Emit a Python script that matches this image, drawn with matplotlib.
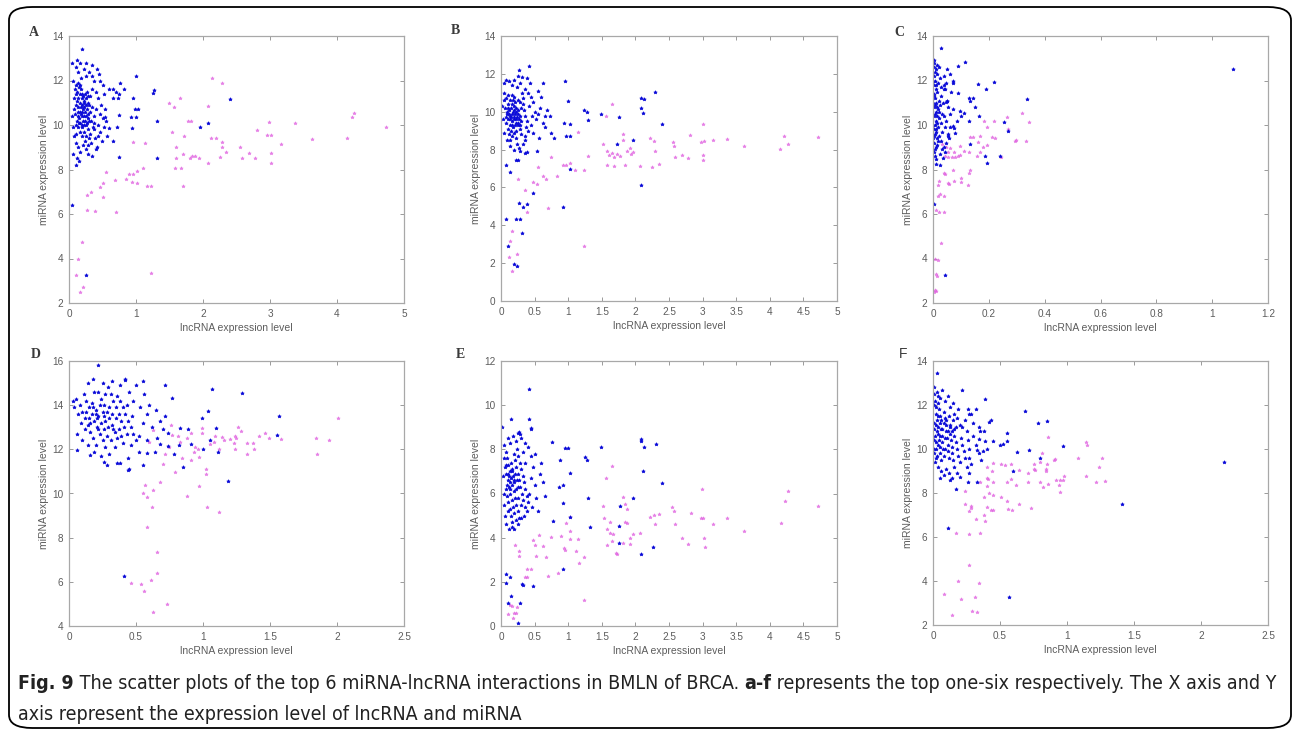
import matplotlib
matplotlib.use("Agg")
import matplotlib.pyplot as plt
import numpy as np
from matplotlib.patches import FancyBboxPatch
from matplotlib.ticker import FuncFormatter

W, H = 1295, 732
BLUE = "#0a0ad8"
MAGENTA = "#e060e0"
GREY = "#5c5c5c"
SPINE = "#a8a8a8"

# ---- data ----
a_blue = [
    (0.10, 11.8), (0.12, 11.5), (0.14, 11.2), (0.16, 11.0), (0.18, 10.8), (0.20, 10.6), (0.22, 10.4), (0.24, 10.2), (0.26, 10.0), (0.28, 9.8),
    (0.11, 10.9), (0.13, 10.6), (0.15, 10.3), (0.17, 10.1), (0.19, 9.9), (0.21, 11.3), (0.23, 11.1), (0.25, 10.9), (0.27, 10.7), (0.29, 10.5),
    (0.12, 10.2), (0.14, 9.9), (0.16, 9.7), (0.18, 11.6), (0.20, 11.4), (0.22, 10.8), (0.24, 10.6), (0.26, 11.2), (0.28, 10.3), (0.30, 10.9),
    (0.09, 10.5), (0.10, 10.0), (0.11, 9.6), (0.13, 11.9), (0.15, 11.7), (0.17, 11.4), (0.19, 10.4), (0.21, 10.2), (0.23, 9.7), (0.25, 9.5),
    (0.27, 11.5), (0.29, 11.0), (0.31, 10.6), (0.33, 10.2), (0.35, 10.8), (0.37, 10.4), (0.32, 11.3), (0.34, 11.6), (0.36, 9.9), (0.38, 10.1),
    (0.08, 11.2), (0.07, 10.7), (0.06, 12.0), (0.05, 12.8), (0.10, 12.6), (0.14, 12.4), (0.18, 12.1), (0.22, 12.5), (0.26, 12.8), (0.30, 12.4),
    (0.34, 12.2), (0.38, 12.0), (0.42, 12.5), (0.45, 12.3), (0.20, 13.4), (0.12, 12.9), (0.25, 12.2), (0.16, 12.8), (0.40, 11.5), (0.44, 11.2),
    (0.48, 10.9), (0.41, 10.7), (0.46, 10.5), (0.50, 10.3), (0.43, 10.0), (0.47, 9.7), (0.52, 9.9), (0.39, 9.4), (0.44, 9.5), (0.49, 9.3),
    (0.10, 9.2), (0.13, 9.0), (0.17, 8.8), (0.21, 9.1), (0.25, 8.9), (0.29, 8.7), (0.33, 9.2), (0.35, 8.6), (0.30, 9.4), (0.12, 8.5),
    (0.10, 8.2), (0.15, 8.4), (0.20, 9.5), (0.24, 9.3), (0.28, 9.1), (0.32, 9.6), (0.40, 8.9), (0.37, 9.8), (0.06, 9.9), (0.05, 10.4),
    (0.20, 10.0), (0.18, 10.5), (0.16, 10.6), (0.14, 10.8), (0.22, 11.0), (0.24, 11.4), (0.12, 11.1), (0.20, 10.9), (0.17, 11.8), (0.25, 10.4),
    (0.27, 10.1), (0.15, 10.1), (0.13, 10.4), (0.19, 11.2), (0.21, 10.7), (0.23, 10.0), (0.30, 10.2), (0.28, 11.3), (0.11, 11.4), (0.09, 11.6),
    (0.53, 10.7), (0.55, 10.2), (0.52, 11.4), (0.50, 11.8), (0.56, 9.5), (0.06, 8.7), (0.08, 9.5), (0.42, 9.0), (0.47, 12.0), (0.35, 12.7),
    (1.00, 12.2), (0.76, 11.9), (0.66, 11.6), (0.70, 11.5), (0.74, 11.4), (0.82, 11.6), (0.59, 11.6), (0.65, 11.2), (0.73, 11.2), (0.95, 11.2),
    (0.99, 10.7), (1.03, 10.7), (0.74, 10.45), (0.71, 9.9), (0.94, 9.85), (0.92, 10.37), (1.00, 10.35), (0.66, 9.3), (0.74, 8.57), (0.59, 9.85),
    (0.54, 10.37), (1.31, 8.5), (1.31, 10.18), (1.27, 11.57), (1.25, 11.44), (2.07, 10.07), (2.40, 11.15), (1.96, 9.9), (0.25, 3.25), (0.04, 6.41),
]
a_mag = [
    (4.73, 9.9), (4.25, 10.54), (4.22, 10.34), (4.15, 9.43), (3.62, 9.35), (3.37, 10.1), (3.16, 9.14), (2.99, 10.13), (2.95, 9.55), (3.02, 9.55),
    (3.02, 8.72), (3.02, 8.3), (2.80, 9.76), (2.78, 8.5), (2.68, 8.72), (2.58, 8.5), (2.55, 9.0), (2.34, 8.78), (2.28, 9.0), (2.28, 9.25),
    (2.26, 8.57), (2.20, 9.43), (2.12, 9.4), (2.07, 10.85), (2.13, 12.13), (2.29, 11.9), (2.07, 8.27), (1.94, 8.5), (1.88, 8.6), (1.84, 8.62),
    (1.80, 8.5), (1.70, 8.7), (1.67, 8.05), (1.58, 8.05), (1.70, 7.28), (1.82, 10.16), (1.77, 10.16), (1.71, 9.49), (1.65, 11.2), (1.56, 10.8),
    (1.49, 11.0), (1.53, 9.68), (1.59, 9.0), (1.60, 8.53), (1.23, 3.36), (1.14, 9.2), (0.96, 9.25), (1.16, 7.28), (1.22, 7.28), (1.10, 8.05),
    (1.01, 7.93), (1.02, 7.4), (0.94, 7.45), (0.95, 7.82), (0.85, 7.58), (0.90, 7.8), (0.70, 6.1), (0.68, 7.52), (0.55, 7.9), (0.51, 7.4),
    (0.46, 7.22), (0.51, 6.75), (0.39, 6.13), (0.27, 6.16), (0.27, 6.85), (0.33, 6.97), (0.19, 4.73), (0.14, 3.98), (0.10, 3.28), (0.16, 2.5),
    (0.21, 2.7),
]

b_blue = [
    (0.05, 11.0), (0.08, 10.7), (0.10, 10.4), (0.12, 10.1), (0.14, 9.8), (0.16, 9.5), (0.18, 9.2), (0.20, 8.9), (0.22, 8.6), (0.24, 8.3),
    (0.06, 10.2), (0.09, 9.9), (0.11, 9.6), (0.13, 9.3), (0.15, 9.0), (0.17, 8.7), (0.19, 10.8), (0.21, 10.5), (0.23, 10.2), (0.25, 9.9),
    (0.27, 9.6), (0.29, 9.3), (0.07, 9.4), (0.10, 9.1), (0.12, 8.8), (0.14, 8.5), (0.16, 10.9), (0.18, 10.6), (0.20, 10.3), (0.22, 10.0),
    (0.24, 9.7), (0.26, 9.4), (0.28, 9.1), (0.30, 8.8), (0.32, 10.4), (0.34, 10.1), (0.36, 9.8), (0.38, 9.5), (0.31, 11.0), (0.33, 10.7),
    (0.04, 11.5), (0.08, 11.7), (0.12, 11.6), (0.16, 11.4), (0.20, 11.7), (0.24, 11.3), (0.28, 11.5), (0.35, 11.2), (0.40, 11.0), (0.45, 10.8),
    (0.48, 10.5), (0.42, 10.3), (0.50, 10.0), (0.46, 9.8), (0.52, 9.6), (0.44, 9.3), (0.40, 9.0), (0.36, 8.7), (0.48, 8.9), (0.55, 9.9),
    (0.58, 10.2), (0.60, 10.8), (0.56, 8.6), (0.33, 8.3), (0.27, 8.1), (0.20, 8.0), (0.13, 8.2), (0.09, 8.5), (0.05, 8.9), (0.03, 9.6),
    (0.02, 10.3), (0.04, 10.6), (0.15, 10.2), (0.17, 9.9), (0.19, 9.6), (0.21, 9.3), (0.23, 9.0), (0.13, 10.6), (0.11, 10.9), (0.25, 10.6),
    (0.14, 9.6), (0.16, 9.3), (0.18, 10.0), (0.20, 9.7), (0.22, 9.4), (0.12, 9.9), (0.10, 10.2), (0.26, 10.1), (0.28, 9.8), (0.30, 9.5),
    (0.17, 10.4), (0.19, 10.1), (0.15, 9.7), (0.21, 9.9), (0.23, 9.6), (0.25, 9.3), (0.09, 10.0), (0.07, 9.7), (0.29, 10.5), (0.37, 9.2),
    (0.43, 11.5), (0.38, 11.8), (0.25, 11.9), (0.30, 10.2), (0.35, 8.5), (0.28, 7.9), (0.62, 9.4), (0.65, 9.8), (0.68, 10.1), (0.55, 11.1),
    (0.41, 12.4), (0.27, 12.2), (0.31, 11.85), (0.95, 11.6), (0.63, 11.5), (1.00, 10.55), (1.24, 10.1), (1.28, 10.0), (1.30, 9.55), (1.49, 9.87),
    (1.76, 9.72), (1.03, 9.37), (0.94, 9.4), (2.08, 10.7), (2.13, 10.65), (2.08, 10.2), (2.12, 9.95), (2.29, 11.05), (2.40, 9.37), (1.97, 8.52),
    (1.72, 8.28), (2.08, 6.12), (0.96, 8.7), (1.03, 8.7), (1.03, 7.0), (0.93, 4.97), (0.47, 5.72), (0.38, 5.15), (0.27, 5.18), (0.32, 4.95),
    (0.23, 4.34), (0.29, 4.34), (0.07, 4.34), (0.31, 3.6), (0.11, 2.92), (0.19, 1.95), (0.24, 1.86), (0.13, 6.8), (0.07, 7.16), (0.23, 7.43),
    (0.26, 7.43), (0.36, 7.8), (0.38, 7.85), (0.53, 7.95), (0.65, 9.2), (0.73, 9.8), (0.75, 8.85), (0.79, 8.6),
]
b_mag = [
    (0.16, 1.57), (0.12, 2.3), (0.13, 3.15), (0.17, 3.7), (0.24, 2.48), (0.26, 6.46), (0.36, 5.84), (0.39, 4.7), (0.48, 6.3), (0.53, 6.2),
    (0.55, 7.07), (0.62, 6.6), (0.67, 6.45), (0.70, 4.9), (0.74, 7.6), (0.84, 6.58), (0.92, 7.17), (0.96, 7.2), (1.02, 7.3), (1.10, 6.9),
    (1.14, 8.95), (1.23, 6.9), (1.30, 7.64), (1.23, 2.9), (1.52, 8.31), (1.56, 9.8), (1.65, 10.43), (1.57, 7.9), (1.60, 7.7), (1.65, 7.84),
    (1.68, 7.6), (1.72, 7.78), (1.77, 7.66), (1.68, 7.13), (1.57, 7.2), (1.82, 8.84), (1.82, 8.52), (1.85, 7.2), (1.87, 7.9), (1.94, 7.78),
    (1.92, 8.06), (1.97, 7.87), (2.07, 7.13), (2.22, 8.6), (2.28, 8.45), (2.29, 7.95), (2.24, 7.07), (2.35, 7.25), (2.56, 8.4), (2.58, 8.2),
    (2.59, 7.6), (2.69, 7.7), (2.79, 7.53), (2.81, 8.75), (2.97, 8.4), (3.00, 9.37), (3.00, 7.72), (3.02, 8.45), (3.01, 7.45), (3.16, 8.5),
    (3.36, 8.57), (3.61, 8.17), (4.15, 8.05), (4.21, 8.73), (4.27, 8.27), (4.72, 8.66),
]

c_blue = [
    (0.002, 12.8), (0.004, 12.6), (0.006, 12.4), (0.003, 12.2), (0.008, 12.0), (0.005, 11.8), (0.010, 11.6), (0.002, 11.4), (0.007, 11.2), (0.012, 11.0),
    (0.004, 10.8), (0.009, 10.6), (0.003, 10.4), (0.011, 10.2), (0.006, 10.0), (0.002, 9.8), (0.008, 9.6), (0.013, 9.4), (0.005, 9.2), (0.010, 9.0),
    (0.003, 8.8), (0.007, 8.6), (0.012, 8.45), (0.015, 12.3), (0.018, 11.9), (0.016, 11.5), (0.020, 11.1), (0.017, 10.7), (0.022, 10.3), (0.019, 9.9),
    (0.021, 9.5), (0.016, 9.1), (0.024, 8.7), (0.014, 12.7), (0.025, 12.1), (0.028, 11.7), (0.030, 11.3), (0.026, 10.9), (0.032, 10.5), (0.029, 10.1),
    (0.034, 9.7), (0.027, 9.3), (0.031, 8.9), (0.036, 11.0), (0.040, 10.4), (0.038, 11.6), (0.042, 9.9), (0.045, 9.2), (0.035, 8.5), (0.040, 12.2),
    (0.001, 11.0), (0.001, 10.0), (0.001, 9.4), (0.001, 12.0), (0.004, 11.3), (0.006, 10.5), (0.009, 9.8), (0.011, 11.8), (0.013, 10.1), (0.003, 9.5),
    (0.008, 10.9), (0.014, 10.4), (0.005, 12.9), (0.010, 12.5), (0.020, 12.6), (0.023, 10.6), (0.018, 9.3), (0.006, 8.9), (0.012, 9.7), (0.015, 10.8),
    (0.050, 11.1), (0.055, 10.8), (0.048, 10.2), (0.052, 9.6), (0.058, 9.4), (0.044, 8.8), (0.060, 10.5), (0.065, 11.5), (0.046, 11.9), (0.038, 9.0),
    (0.027, 13.47), (1.075, 12.5), (0.116, 12.84), (0.088, 12.66), (0.050, 12.5), (0.060, 12.3), (0.070, 12.0), (0.072, 11.9), (0.040, 11.8), (0.044, 11.6),
    (0.160, 11.86), (0.220, 11.95), (0.190, 11.6), (0.088, 11.45), (0.050, 11.1), (0.046, 11.05), (0.130, 11.2), (0.134, 11.1), (0.145, 11.2), (0.336, 11.18),
    (0.112, 10.55), (0.150, 10.8), (0.166, 10.4), (0.100, 10.4), (0.070, 10.7), (0.130, 10.2), (0.060, 9.9), (0.070, 9.95), (0.076, 9.85), (0.086, 10.2),
    (0.095, 10.65), (0.052, 9.5), (0.080, 9.63), (0.187, 8.6), (0.193, 8.3), (0.240, 8.6), (0.044, 3.28), (0.005, 6.44), (0.012, 8.25), (0.024, 8.2),
    (0.253, 10.13), (0.267, 9.72), (0.133, 9.15),
]
c_mag = [
    (0.017, 6.8), (0.030, 4.7), (0.008, 4.0), (0.017, 3.95), (0.010, 3.3), (0.014, 3.2), (0.008, 2.6), (0.012, 2.55), (0.005, 2.5), (0.010, 6.2),
    (0.020, 6.1), (0.040, 6.1), (0.040, 6.8), (0.026, 6.9), (0.017, 7.3), (0.020, 7.5), (0.052, 7.4), (0.056, 7.35), (0.074, 7.5), (0.100, 7.6),
    (0.040, 7.85), (0.044, 7.8), (0.070, 8.0), (0.100, 7.45), (0.124, 7.3), (0.128, 7.85), (0.133, 8.0), (0.044, 8.6), (0.052, 8.55), (0.068, 8.55),
    (0.080, 8.55), (0.088, 8.62), (0.098, 8.65), (0.052, 8.8), (0.074, 8.8), (0.060, 8.95), (0.033, 9.15), (0.048, 9.0), (0.095, 9.05), (0.110, 8.85),
    (0.130, 8.78), (0.157, 8.62), (0.133, 9.48), (0.145, 9.45), (0.160, 9.22), (0.170, 9.52), (0.180, 9.0), (0.193, 9.12), (0.170, 8.8), (0.210, 9.45),
    (0.195, 9.93), (0.183, 10.17), (0.220, 10.2), (0.222, 9.42), (0.242, 8.55), (0.265, 10.35), (0.270, 9.83), (0.292, 9.3), (0.298, 9.33), (0.333, 9.27),
    (0.320, 10.55), (0.345, 10.13),
]

d_blue = [
    (0.05, 14.3), (0.08, 14.0), (0.10, 13.7), (0.12, 13.4), (0.14, 13.1), (0.16, 12.8), (0.18, 12.5), (0.20, 12.2), (0.22, 14.6), (0.24, 14.3),
    (0.26, 14.0), (0.28, 13.7), (0.30, 13.4), (0.32, 13.1), (0.34, 12.8), (0.36, 12.5), (0.38, 14.2), (0.40, 13.9), (0.42, 13.6), (0.44, 13.3),
    (0.46, 13.0), (0.48, 12.7), (0.50, 12.4), (0.11, 14.5), (0.13, 14.2), (0.15, 13.9), (0.17, 13.6), (0.19, 13.3), (0.21, 13.0), (0.23, 12.7),
    (0.25, 12.4), (0.27, 12.1), (0.29, 14.8), (0.31, 14.5), (0.33, 14.2), (0.35, 13.9), (0.37, 13.6), (0.39, 13.3), (0.41, 13.0), (0.43, 12.7),
    (0.20, 13.8), (0.22, 13.5), (0.24, 13.2), (0.26, 12.9), (0.28, 12.6), (0.18, 13.9), (0.20, 13.6), (0.25, 13.7), (0.30, 13.9), (0.35, 13.4),
    (0.15, 13.4), (0.27, 13.3), (0.32, 13.6), (0.23, 14.0), (0.17, 14.1), (0.12, 12.9), (0.09, 13.2), (0.07, 13.6), (0.06, 12.7), (0.04, 13.9),
    (0.03, 14.2), (0.10, 12.4), (0.14, 12.2), (0.19, 11.9), (0.24, 11.7), (0.30, 11.8), (0.34, 12.1), (0.40, 12.3), (0.46, 12.2), (0.52, 12.6),
    (0.55, 13.2), (0.58, 13.6), (0.53, 13.9), (0.48, 14.2), (0.45, 14.6), (0.38, 14.9), (0.32, 15.1), (0.25, 15.0), (0.18, 15.2), (0.14, 15.0),
    (0.42, 15.2), (0.50, 14.9), (0.56, 14.5), (0.60, 14.0), (0.62, 13.0), (0.58, 12.4), (0.52, 11.9), (0.44, 11.6), (0.36, 11.4), (0.28, 11.3),
    (0.26, 13.5), (0.21, 13.4), (0.29, 13.0), (0.33, 12.9), (0.37, 12.9), (0.13, 13.7), (0.16, 13.2), (0.22, 12.9), (0.31, 12.4), (0.39, 12.6),
    (0.47, 13.5), (0.43, 14.0), (0.36, 14.4), (0.27, 14.5), (0.19, 14.6), (0.65, 13.8), (0.68, 13.3), (0.70, 12.9), (0.66, 12.5), (0.72, 13.5),
    (0.22, 15.8), (0.42, 15.16), (0.55, 15.08), (0.72, 14.9), (1.07, 14.75), (1.29, 14.55), (0.77, 14.32), (1.04, 13.74), (1.57, 13.5), (0.99, 13.4),
    (1.10, 12.96), (0.83, 12.95), (0.89, 12.9), (0.74, 12.75), (1.55, 12.64), (1.19, 10.58), (0.41, 6.26), (0.44, 11.05), (0.45, 11.1), (0.55, 11.27),
    (0.74, 12.13), (0.78, 11.77), (0.82, 12.18), (0.85, 11.22), (0.91, 12.26), (1.00, 12.03), (1.05, 12.4), (1.11, 11.88), (0.58, 11.84), (0.68, 12.26),
    (0.64, 11.88), (0.06, 11.95), (0.16, 11.73), (0.26, 11.42), (0.38, 11.37),
]
d_mag = [
    (0.76, 13.1), (0.77, 12.64), (0.81, 12.6), (0.83, 12.34), (0.84, 11.62), (0.75, 12.1), (0.72, 11.8), (0.70, 11.34), (0.79, 10.96), (0.68, 10.5),
    (0.88, 12.53), (0.91, 12.75), (0.94, 12.1), (0.96, 12.03), (0.97, 11.65), (0.99, 12.95), (0.99, 12.72), (0.93, 11.88), (0.91, 11.5), (0.97, 10.35),
    (1.02, 10.88), (1.02, 11.1), (1.05, 12.26), (1.08, 12.34), (1.09, 12.6), (1.12, 12.03), (1.14, 12.56), (1.16, 12.4), (1.20, 12.48), (1.23, 12.3),
    (1.24, 12.6), (1.25, 12.5), (1.24, 12.03), (1.26, 13.0), (1.28, 12.84), (1.33, 11.8), (1.33, 12.3), (1.37, 12.3), (1.38, 12.03), (1.42, 12.6),
    (1.46, 12.72), (1.49, 12.52), (1.58, 12.46), (1.84, 12.53), (1.85, 11.77), (1.94, 12.4), (2.01, 13.4), (0.55, 10.0), (0.57, 10.4), (0.58, 9.85),
    (0.62, 9.4), (0.63, 10.15), (0.88, 9.88), (1.03, 9.4), (1.12, 9.16), (0.58, 8.47), (0.66, 7.34), (0.66, 6.38), (0.61, 6.1), (0.54, 5.88),
    (0.56, 5.6), (0.46, 5.95), (0.73, 5.0), (0.63, 4.63), (0.60, 12.34), (0.63, 12.87),
]

e_blue = [
    (0.05, 8.2), (0.07, 7.9), (0.09, 7.6), (0.11, 7.3), (0.13, 7.0), (0.15, 6.7), (0.17, 6.4), (0.19, 6.1), (0.21, 5.8), (0.23, 5.5),
    (0.25, 5.2), (0.27, 4.9), (0.06, 7.2), (0.08, 6.9), (0.10, 6.6), (0.12, 6.3), (0.14, 6.0), (0.16, 5.7), (0.18, 5.4), (0.20, 5.1),
    (0.22, 4.8), (0.24, 8.0), (0.26, 7.7), (0.28, 7.4), (0.30, 7.1), (0.32, 6.8), (0.34, 6.5), (0.36, 6.2), (0.38, 5.9), (0.40, 5.6),
    (0.07, 6.2), (0.09, 5.9), (0.11, 5.6), (0.13, 5.3), (0.15, 5.0), (0.17, 4.7), (0.19, 7.8), (0.21, 7.5), (0.23, 7.2), (0.25, 6.9),
    (0.27, 6.6), (0.29, 6.3), (0.31, 6.0), (0.33, 5.7), (0.35, 5.4), (0.12, 6.8), (0.14, 6.5), (0.16, 7.1), (0.18, 6.8), (0.20, 6.5),
    (0.22, 6.2), (0.24, 6.6), (0.26, 6.3), (0.15, 7.4), (0.17, 7.0), (0.13, 6.2), (0.19, 6.6), (0.21, 6.9), (0.11, 6.9), (0.09, 6.4),
    (0.04, 5.5), (0.05, 6.0), (0.03, 6.8), (0.04, 7.6), (0.06, 5.0), (0.08, 4.6), (0.12, 4.4), (0.16, 4.5), (0.20, 4.4), (0.26, 4.6),
    (0.30, 4.9), (0.34, 5.0), (0.38, 5.2), (0.42, 6.0), (0.45, 6.7), (0.48, 7.2), (0.44, 7.7), (0.40, 8.1), (0.35, 8.3), (0.30, 8.5),
    (0.50, 6.4), (0.52, 5.8), (0.55, 5.2), (0.50, 7.8), (0.58, 6.9), (0.60, 7.4), (0.62, 6.5), (0.46, 5.4), (0.36, 7.4), (0.32, 7.9),
    (0.14, 8.3), (0.10, 8.5), (0.18, 8.6), (0.22, 8.4), (0.28, 8.7), (0.08, 7.3), (0.10, 5.2), (0.26, 5.8), (0.30, 5.5), (0.65, 5.9),
    (0.41, 10.72), (0.42, 9.36), (0.15, 9.36), (0.02, 9.0), (0.44, 8.9), (0.45, 8.95), (0.27, 8.8), (0.26, 8.75), (0.76, 8.35), (0.95, 8.08),
    (1.00, 8.08), (1.49, 8.12), (2.08, 8.45), (2.09, 8.38), (2.13, 8.12), (2.31, 8.24), (2.12, 7.0), (1.25, 7.65), (1.28, 7.5), (1.03, 6.94),
    (0.93, 6.38), (0.93, 5.58), (1.30, 5.8), (1.77, 5.45), (1.96, 5.81), (2.40, 6.46), (1.03, 4.95), (0.77, 4.77), (1.32, 4.47), (1.76, 4.53),
    (1.75, 3.77), (2.09, 3.25), (2.26, 3.6), (0.92, 2.6), (0.48, 1.81), (0.31, 1.9), (0.32, 1.85), (0.07, 2.34), (0.14, 2.23), (0.07, 1.96),
    (0.15, 1.37), (0.11, 1.06), (0.28, 1.03), (0.25, 0.12), (0.87, 6.3), (0.88, 7.5),
]
e_mag = [
    (1.56, 6.69), (1.65, 7.26), (1.52, 5.45), (1.54, 4.88), (1.62, 4.73), (1.57, 4.38), (1.62, 4.2), (1.66, 4.15), (1.65, 3.86), (1.58, 3.67),
    (1.71, 3.3), (1.72, 3.28), (1.82, 5.86), (1.84, 5.52), (1.85, 4.7), (1.87, 4.68), (1.88, 5.28), (1.81, 3.74), (1.92, 3.71), (1.92, 4.0),
    (1.97, 4.15), (2.07, 4.2), (2.21, 4.95), (2.28, 5.03), (2.35, 5.06), (2.29, 4.62), (2.54, 5.37), (2.58, 5.2), (2.59, 4.62), (2.69, 4.0),
    (2.79, 3.7), (2.82, 5.1), (2.97, 4.88), (3.00, 4.88), (2.99, 6.19), (3.02, 4.0), (3.03, 3.6), (3.16, 4.6), (3.37, 4.9), (3.62, 4.3),
    (4.16, 4.68), (4.22, 5.64), (4.27, 6.11), (4.72, 5.43), (0.48, 3.9), (0.51, 3.67), (0.56, 4.12), (0.62, 3.64), (0.52, 3.17), (0.27, 3.17),
    (0.27, 3.41), (0.21, 3.67), (0.38, 2.57), (0.39, 2.23), (0.45, 2.57), (0.36, 2.23), (0.67, 3.11), (0.70, 2.25), (0.75, 4.02), (0.85, 2.38),
    (0.89, 4.08), (0.94, 3.55), (0.95, 3.45), (0.97, 4.68), (1.02, 4.95), (1.02, 3.95), (1.03, 4.3), (1.14, 3.95), (1.11, 3.41), (1.16, 2.84),
    (1.24, 3.14), (1.23, 1.19), (0.10, 0.54), (0.13, 0.96), (0.16, 0.92), (0.19, 0.58), (0.22, 0.6), (0.24, 0.85), (0.18, 0.35),
]

f_blue = [
    (0.005, 12.8), (0.010, 12.5), (0.015, 12.2), (0.020, 11.9), (0.025, 11.6), (0.030, 11.3), (0.035, 11.0), (0.040, 10.7), (0.045, 10.4), (0.050, 10.1),
    (0.055, 9.8), (0.060, 9.5), (0.005, 11.2), (0.010, 10.9), (0.015, 10.6), (0.020, 10.3), (0.025, 10.0), (0.030, 9.7), (0.035, 12.4), (0.040, 12.1),
    (0.045, 11.8), (0.050, 11.5), (0.055, 11.2), (0.060, 10.9), (0.065, 10.6), (0.070, 10.3), (0.075, 10.0), (0.080, 9.7), (0.085, 11.7), (0.090, 11.4),
    (0.095, 11.1), (0.100, 10.8), (0.105, 10.5), (0.110, 10.2), (0.115, 9.9), (0.120, 9.6), (0.125, 11.0), (0.130, 10.7), (0.135, 10.4), (0.140, 10.1),
    (0.145, 9.8), (0.150, 9.5), (0.155, 10.9), (0.160, 10.6), (0.170, 10.3), (0.180, 10.0), (0.190, 9.7), (0.200, 9.4), (0.210, 10.5), (0.220, 10.2),
    (0.230, 9.9), (0.240, 9.6), (0.250, 10.8), (0.260, 10.4), (0.270, 10.0), (0.280, 9.3), (0.300, 10.6), (0.320, 10.2), (0.340, 9.8), (0.360, 9.5),
    (0.020, 11.1), (0.030, 10.8), (0.040, 11.5), (0.050, 10.6), (0.060, 11.3), (0.070, 10.9), (0.080, 11.2), (0.090, 10.5), (0.100, 11.3), (0.110, 10.8),
    (0.120, 11.5), (0.130, 11.1), (0.140, 10.8), (0.150, 11.3), (0.160, 11.6), (0.170, 11.0), (0.180, 11.4), (0.200, 11.1), (0.220, 11.0), (0.240, 11.3),
    (0.010, 10.0), (0.020, 9.6), (0.040, 9.2), (0.060, 9.0), (0.080, 8.8), (0.100, 9.1), (0.120, 8.9), (0.140, 8.7), (0.160, 9.2), (0.180, 8.9),
    (0.010, 12.0), (0.030, 12.6), (0.050, 12.3), (0.070, 12.7), (0.090, 12.2), (0.110, 12.4), (0.130, 11.9), (0.150, 12.1), (0.190, 11.8), (0.280, 11.6),
    (0.300, 11.2), (0.340, 11.0), (0.260, 11.8), (0.380, 10.8), (0.400, 10.0), (0.005, 10.4), (0.008, 9.8), (0.012, 9.4), (0.040, 10.2), (0.090, 10.0),
    (0.03, 13.47), (0.22, 12.67), (0.39, 12.28), (0.69, 11.73), (0.78, 11.2), (0.85, 11.26), (0.97, 10.14), (0.55, 10.73), (0.52, 10.22), (0.50, 10.2),
    (0.55, 10.37), (0.39, 10.35), (0.45, 10.35), (0.63, 9.87), (0.72, 9.95), (0.80, 9.57), (0.60, 8.99), (0.32, 11.8), (0.27, 11.6), (0.11, 6.39),
    (0.57, 3.29), (0.42, 11.23), (0.43, 11.3), (0.35, 10.8), (0.34, 10.47), (0.33, 9.95), (0.37, 9.9), (0.27, 9.57), (0.25, 9.2), (0.20, 8.73),
    (0.27, 8.9), (0.33, 8.5), (0.26, 8.5), (0.17, 8.2), (0.13, 8.6), (0.05, 8.67), (1.41, 7.48), (2.17, 9.39),
]
f_mag = [
    (0.40, 9.19), (0.45, 9.37), (0.44, 8.99), (0.40, 8.7), (0.41, 8.65), (0.45, 8.5), (0.51, 9.34), (0.54, 9.27), (0.58, 9.3), (0.55, 8.5),
    (0.58, 8.63), (0.62, 8.36), (0.64, 9.04), (0.71, 8.89), (0.71, 8.5), (0.75, 9.11), (0.75, 9.34), (0.76, 9.04), (0.80, 9.4), (0.81, 9.8),
    (0.84, 8.99), (0.84, 9.07), (0.85, 9.34), (0.86, 10.55), (0.90, 9.5), (0.91, 9.55), (0.92, 8.6), (0.94, 8.36), (0.95, 8.58), (0.95, 8.05),
    (0.97, 8.58), (0.98, 8.77), (0.80, 8.5), (0.82, 8.26), (0.86, 8.43), (1.08, 9.6), (1.14, 10.3), (1.15, 10.2), (1.14, 8.78), (1.22, 8.5),
    (1.24, 9.19), (1.26, 9.61), (1.28, 8.56), (0.24, 8.08), (0.24, 7.52), (0.28, 7.4), (0.28, 7.3), (0.27, 7.2), (0.32, 6.84), (0.39, 6.74),
    (0.40, 7.35), (0.38, 7.0), (0.35, 6.16), (0.27, 6.12), (0.17, 6.2), (0.38, 7.83), (0.42, 8.0), (0.45, 7.93), (0.51, 7.83), (0.55, 7.63),
    (0.56, 7.28), (0.64, 7.52), (0.73, 7.3), (0.43, 7.25), (0.45, 7.22), (0.59, 7.25), (0.27, 4.73), (0.19, 4.0), (0.34, 3.9), (0.08, 3.39),
    (0.21, 3.18), (0.31, 3.29), (0.29, 2.65), (0.33, 2.59), (0.14, 2.47), (0.35, 8.5), (0.40, 8.3),
]

panels = [
    # letter, blue, magenta, xlim, xstep, ylim, box(px: left, top, right, bottom), letter pos, serif?
    ("A", a_blue, a_mag, (0, 5), 1.0, (2, 14), (69, 36, 404, 303), (34, 33), True),
    ("B", b_blue, b_mag, (0, 5), 0.5, (0, 14), (501, 36, 837, 301), (455, 31), True),
    ("C", c_blue, c_mag, (0, 1.2), 0.2, (2, 14), (933, 36, 1268, 303), (899, 33), True),
    ("D", d_blue, d_mag, (0, 2.5), 0.5, (4, 16), (69, 361, 404, 626), (36, 354), True),
    ("E", e_blue, e_mag, (0, 5), 0.5, (0, 12), (501, 361, 837, 626), (460, 354), True),
    ("F", f_blue, f_mag, (0, 2.5), 0.5, (2, 14), (933, 361, 1268, 625), (903, 354), False),
]

fmt = FuncFormatter(lambda v, p: f"{v:g}")

fig = plt.figure(figsize=(W / 100, H / 100), dpi=100)
fig.patch.set_facecolor("white")

border = FancyBboxPatch((9 / W, 4 / H), 1282 / W, 721 / H, boxstyle="round,pad=0,rounding_size=0.018",
                        transform=fig.transFigure, fill=False, edgecolor="black", linewidth=1.3)
fig.patches.append(border)

for letter, blue, mag, xlim, xstep, ylim, box, lpos, serif in panels:
    l, t, r, b = box
    ax = fig.add_axes([l / W, 1 - b / H, (r - l) / W, (b - t) / H])
    bx, by = np.array(blue).T
    mx, my = np.array(mag).T
    ax.plot(mx, my, ls="none", marker="*", ms=2.6, mew=0.4, color=MAGENTA, alpha=0.75)
    ax.plot(bx, by, ls="none", marker="*", ms=2.6, mew=0.5, color=BLUE)
    ax.set_xlim(*xlim)
    ax.set_ylim(*ylim)
    ax.set_xticks(np.arange(xlim[0], xlim[1] + 1e-9, xstep))
    ax.set_yticks(np.arange(ylim[0], ylim[1] + 1e-9, 2))
    ax.xaxis.set_major_formatter(fmt)
    ax.yaxis.set_major_formatter(fmt)
    ax.tick_params(direction="in", top=True, right=True, length=3, width=0.6, color="#8a8a8a",
                   labelsize=7.2, labelcolor=GREY, pad=4)
    for sp in ax.spines.values():
        sp.set_color(SPINE)
        sp.set_linewidth(0.9)
    ax.set_xlabel("lncRNA expression level", fontsize=7.5, color=GREY, family="Liberation Sans", labelpad=3)
    ax.set_ylabel("miRNA expression level", fontsize=7.5, color=GREY, family="Liberation Sans", labelpad=2)
    for lab in ax.get_xticklabels() + ax.get_yticklabels():
        lab.set_family("Liberation Sans")
    if serif:
        fig.text(lpos[0] / W, 1 - lpos[1] / H, letter, fontsize=10, family="Liberation Serif",
                 fontweight="bold", color="#3a3a3a", ha="center", va="center")
    else:
        fig.text(lpos[0] / W, 1 - lpos[1] / H, letter, fontsize=10, family="Liberation Sans",
                 color="#3a3a3a", ha="center", va="center")

# caption, drawn piece by piece so the bold parts sit inline
CAP_FAMILY = ["DejaVu Sans"]
renderer = fig.canvas.get_renderer()


def caption_line(parts, x0, y):
    x = x0
    for txt, bold in parts:
        t = fig.text(x / W, 1 - y / H, txt, fontsize=14.0, family=CAP_FAMILY, fontstretch="condensed",
                     fontweight="bold" if bold else "normal", color="#222222", va="baseline", ha="left")
        bb = t.get_window_extent(renderer=renderer)
        x += bb.width


caption_line([("Fig. 9", True),
              (" The scatter plots of the top 6 miRNA-lncRNA interactions in BMLN of BRCA. ", False),
              ("a-f", True),
              (" represents the top one-six respectively. The X axis and Y", False)], 18, 689)
caption_line([("axis represent the expression level of lncRNA and miRNA", False)], 18, 720)

fig.savefig("out.png", dpi=100)
